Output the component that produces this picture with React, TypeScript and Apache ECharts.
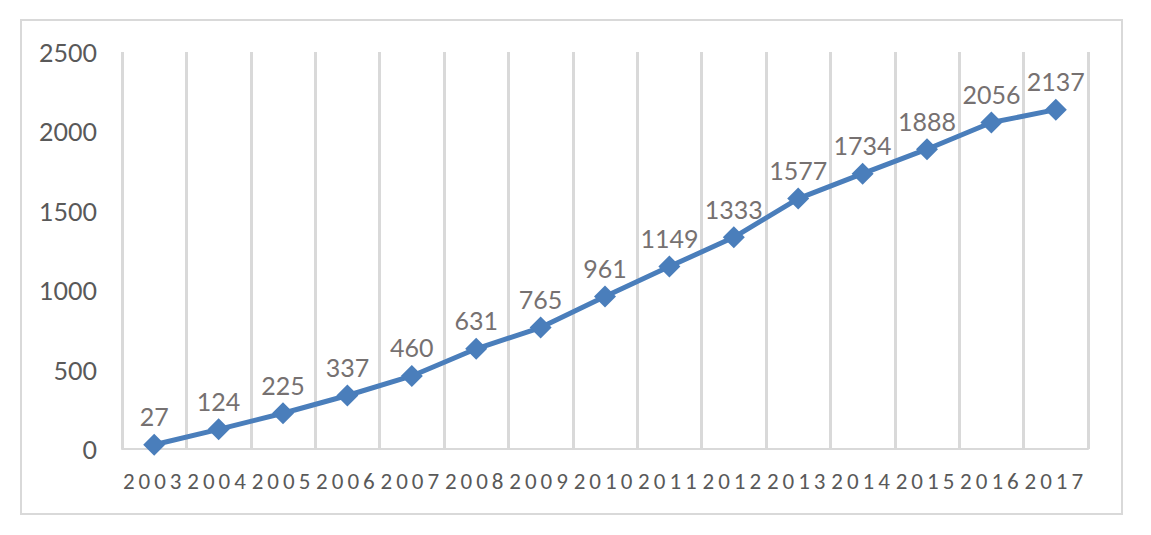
import React, { useEffect, useRef } from "react";
import * as echarts from "echarts";

const years = ["2003","2004","2005","2006","2007","2008","2009","2010","2011","2012","2013","2014","2015","2016","2017"];
const values = [27,124,225,337,460,631,765,961,1149,1333,1577,1734,1888,2056,2137];
const yTicks = { min: 0, max: 2500, interval: 500 };

export default function App() {
  const ref = useRef<HTMLDivElement>(null);
  useEffect(() => {
    if (!ref.current) return;
    const chart = echarts.init(ref.current, null, { renderer: "svg" });
    chart.setOption({
      animation: false,
      backgroundColor: "#ffffff",
      graphic: [
        {
          type: "rect",
          shape: { x: 21, y: 20, width: 1101, height: 494 },
          style: { fill: "none", stroke: "#d9d9d9", lineWidth: 2 },
          silent: true,
        },
      ],
      grid: { left: 122, right: 63, top: 52, bottom: 86 },
      xAxis: {
        type: "category",
        data: years,
        boundaryGap: true,
        axisLine: { show: true, lineStyle: { color: "#d9d9d9", width: 2 } },
        axisTick: { show: false },
        splitLine: { show: true, lineStyle: { color: "#d9d9d9", width: 3 } },
        axisLabel: {
          interval: 0,
          margin: 20,
          color: "#595959",
          fontSize: 23,
          fontFamily: "Carlito, Lato",
        },
      },
      yAxis: {
        type: "value",
        min: yTicks.min,
        max: yTicks.max,
        interval: yTicks.interval,
        axisLine: { show: false },
        axisTick: { show: false },
        splitLine: { show: false },
        axisLabel: {
          margin: 25,
          color: "#595959",
          fontSize: 25,
          fontFamily: "Lato",
          formatter: (v: number) => String(v),
        },
      },
      series: [
        {
          type: "line",
          data: values,
          symbol: "diamond",
          symbolSize: 22,
          lineStyle: { color: "#4a7ebb", width: 5 },
          itemStyle: { color: "#4a7ebb" },
          label: {
            show: true,
            position: "top",
            distance: 5,
            color: "#767171",
            fontSize: 25,
            fontFamily: "Lato",
          },
        },
      ],
    });
    return () => chart.dispose();
  }, []);
  return (
    <>
      <style>{`text[style*="Carlito"]{letter-spacing:4px;}`}</style>
      <div
        ref={ref}
        style={{ position: "absolute", left: 0, top: 0, width: 1151, height: 535 }}
      />
    </>
  );
}
